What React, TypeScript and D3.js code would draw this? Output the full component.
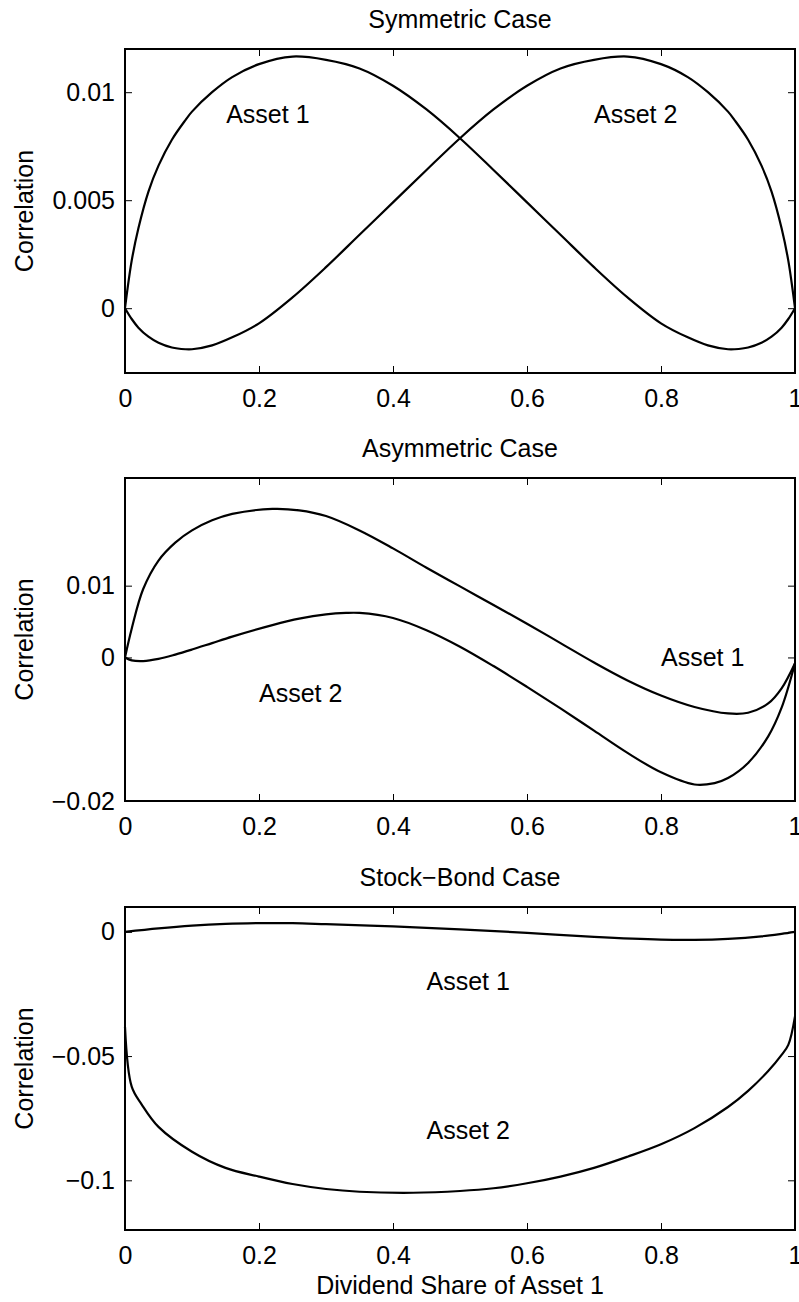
import * as React from "react";
import * as d3 from "d3";

const W = 799;
const H = 1302;
const LEFT = 125;
const RIGHT = 795;
const FONT = "'Liberation Sans', Arial, Helvetica, sans-serif";
const FS = 25;

const xTicks = [0, 0.2, 0.4, 0.6, 0.8, 1];

// Symmetric case
const symX = [0, 0.01, 0.02, 0.035, 0.05, 0.07, 0.09, 0.1, 0.13, 0.16, 0.2, 0.25, 0.3, 0.35, 0.4, 0.45, 0.5,
  0.55, 0.6, 0.65, 0.7, 0.75, 0.8, 0.84, 0.87, 0.9, 0.91, 0.93, 0.95, 0.965, 0.98, 0.99, 1];
const symAsset1 = [0, 0.0022, 0.0037, 0.0054, 0.0066, 0.0078, 0.0087, 0.0091, 0.01, 0.0107, 0.0113, 0.01165, 0.0115,
  0.0111, 0.0103, 0.0092, 0.00787, 0.0064, 0.0049, 0.0034, 0.0019, 0.0005, -0.0007, -0.00135, -0.00172, -0.0019,
  -0.0019, -0.00182, -0.0016, -0.00132, -0.0009, -0.0005, 0];
const symAsset2 = [0, -0.0005, -0.0009, -0.00132, -0.0016, -0.00182, -0.0019, -0.0019, -0.00172, -0.00135, -0.0007,
  0.0005, 0.0019, 0.0034, 0.0049, 0.0064, 0.00787, 0.0092, 0.0103, 0.0111, 0.0115, 0.01165, 0.0113, 0.0107, 0.01,
  0.0091, 0.0087, 0.0078, 0.0066, 0.0054, 0.0037, 0.0022, 0];
const symYTicks = [0, 0.005, 0.01];

// Asymmetric case
const asymX1 = [0, 0.01, 0.027, 0.05, 0.075, 0.1, 0.13, 0.16, 0.22, 0.26, 0.3, 0.35, 0.4, 0.45, 0.5, 0.55, 0.6,
  0.65, 0.7, 0.75, 0.8, 0.85, 0.9, 0.93, 0.96, 0.98, 1];
const asymAsset1 = [0, 0.004, 0.0095, 0.0135, 0.016, 0.0177, 0.0191, 0.02, 0.0207, 0.0205, 0.0197, 0.0177, 0.0152,
  0.0125, 0.0099, 0.0073, 0.0047, 0.002, -0.0007, -0.0032, -0.0053, -0.0069, -0.0078, -0.0077, -0.0064, -0.0043, -0.0008];
const asymX2 = [0, 0.01, 0.027, 0.05, 0.075, 0.1, 0.13, 0.16, 0.22, 0.26, 0.3, 0.33, 0.35, 0.4, 0.45, 0.5, 0.55,
  0.6, 0.65, 0.7, 0.75, 0.8, 0.85, 0.88, 0.9, 0.93, 0.96, 0.98, 1];
const asymAsset2 = [0, -0.0004, -0.0005, -0.0002, 0.0004, 0.0011, 0.002, 0.0029, 0.0045, 0.0054, 0.006, 0.0062,
  0.0062, 0.0055, 0.0038, 0.0015, -0.0012, -0.0041, -0.0071, -0.0102, -0.0133, -0.016, -0.0177, -0.0175, -0.0168,
  -0.0147, -0.011, -0.007, -0.0008];
const asymYTicks = [-0.02, 0, 0.01];

// Stock-bond case
const sbX1 = [0, 0.05, 0.1, 0.15, 0.2, 0.25, 0.3, 0.4, 0.5, 0.6, 0.7, 0.8, 0.85, 0.9, 0.95, 0.98, 1];
const sbAsset1 = [0, 0.0014, 0.0025, 0.0032, 0.0035, 0.0035, 0.0031, 0.0022, 0.001, -0.0004, -0.002, -0.0031,
  -0.0032, -0.0028, -0.0018, -0.0008, 0];
const sbX2 = [0, 0.01, 0.025, 0.05, 0.1, 0.15, 0.2, 0.25, 0.3, 0.35, 0.43, 0.5, 0.55, 0.6, 0.65, 0.7, 0.75, 0.8,
  0.85, 0.9, 0.93, 0.96, 0.98, 0.99, 1];
const sbAsset2 = [-0.0383, -0.0623, -0.0695, -0.0785, -0.0885, -0.095, -0.0985, -0.1015, -0.1035, -0.1046, -0.105,
  -0.1043, -0.1032, -0.1012, -0.0985, -0.095, -0.0905, -0.0855, -0.079, -0.0705, -0.064, -0.056, -0.0495, -0.0455, -0.034];
const sbYTicks = [-0.1, -0.05, 0];

const smooth = d3.curveCatmullRom.alpha(0.5);

const panels = [
  {
    title: "Symmetric Case", top: 49, bottom: 373, yDomain: [-0.003, 0.012], yTicks: symYTicks,
    series: [{ x: symX, y: symAsset1 }, { x: symX, y: symAsset2 }],
    labels: [{ text: "Asset 1", x: 0.151, y: 0.009 }, { text: "Asset 2", x: 0.7, y: 0.009 }],
  },
  {
    title: "Asymmetric Case", top: 478, bottom: 801, yDomain: [-0.02, 0.025], yTicks: asymYTicks,
    series: [{ x: asymX1, y: asymAsset1 }, { x: asymX2, y: asymAsset2 }],
    labels: [{ text: "Asset 1", x: 0.8, y: 0 }, { text: "Asset 2", x: 0.2, y: -0.005 }],
  },
  {
    title: "Stock\u2212Bond Case", top: 907, bottom: 1230, yDomain: [-0.12, 0.01], yTicks: sbYTicks,
    series: [{ x: sbX1, y: sbAsset1 }, { x: sbX2, y: sbAsset2 }],
    labels: [{ text: "Asset 1", x: 0.45, y: -0.02 }, { text: "Asset 2", x: 0.45, y: -0.08 }],
  },
];

const fmt = (v: number) => String(v).replace("-", "\u2212");

function drawChart(svgEl: SVGSVGElement) {
  const svg = d3.select(svgEl);
  svg.selectAll("*").remove();
  svg.append("rect").attr("width", W).attr("height", H).attr("fill", "white");

  const x = d3.scaleLinear().domain([0, 1]).range([LEFT, RIGHT]);

  panels.forEach((p, i) => {
    const y = d3.scaleLinear().domain(p.yDomain).range([p.bottom, p.top]);
    const g = svg.append("g");

    // ticks point inward on all four sides, like matlab's box
    const styleAxis = (sel: any) => {
      sel.select(".domain").remove();
      sel.selectAll("line").attr("stroke", "#000").attr("stroke-width", 1);
      sel.selectAll("text").attr("fill", "#000").attr("font-family", FONT).attr("font-size", FS);
    };
    g.append("g").attr("transform", `translate(0,${p.bottom})`)
      .call(d3.axisBottom(x).tickValues(xTicks).tickSize(-7).tickPadding(16).tickFormat((d: any) => fmt(d)))
      .call(styleAxis);
    g.append("g").attr("transform", `translate(0,${p.top})`)
      .call(d3.axisTop(x).tickValues(xTicks).tickSize(-7).tickFormat(() => ""))
      .call(styleAxis);
    g.append("g").attr("transform", `translate(${LEFT},0)`)
      .call(d3.axisLeft(y).tickValues(p.yTicks).tickSize(-7).tickPadding(10).tickFormat((d: any) => fmt(d)))
      .call(styleAxis);
    g.append("g").attr("transform", `translate(${RIGHT},0)`)
      .call(d3.axisRight(y).tickValues(p.yTicks).tickSize(-7).tickFormat(() => ""))
      .call(styleAxis);

    g.append("rect")
      .attr("x", LEFT).attr("y", p.top)
      .attr("width", RIGHT - LEFT).attr("height", p.bottom - p.top)
      .attr("fill", "none").attr("stroke", "#000").attr("stroke-width", 2);

    p.series.forEach((s) => {
      const line = d3.line<number>()
        .x((_, j) => x(s.x[j]))
        .y((d) => y(d))
        .curve(smooth);
      g.append("path")
        .attr("d", line(s.y))
        .attr("fill", "none")
        .attr("stroke", "#000")
        .attr("stroke-width", 2.2)
        .attr("stroke-linejoin", "round");
    });

    p.labels.forEach((l) => {
      g.append("text")
        .attr("x", x(l.x)).attr("y", y(l.y)).attr("dy", "0.35em")
        .attr("font-family", FONT).attr("font-size", FS)
        .text(l.text);
    });

    g.append("text")
      .attr("x", (LEFT + RIGHT) / 2).attr("y", p.top - 21)
      .attr("text-anchor", "middle")
      .attr("font-family", FONT).attr("font-size", FS)
      .text(p.title);

    g.append("text")
      .attr("transform", `translate(33,${(p.top + p.bottom) / 2}) rotate(-90)`)
      .attr("text-anchor", "middle")
      .attr("font-family", FONT).attr("font-size", FS)
      .text("Correlation");

    if (i === panels.length - 1) {
      g.append("text")
        .attr("x", (LEFT + RIGHT) / 2).attr("y", 1294)
        .attr("text-anchor", "middle")
        .attr("font-family", FONT).attr("font-size", FS)
        .text("Dividend Share of Asset 1");
    }
  });
}

const App = () => {
  const svg = React.useRef<SVGSVGElement>(null);
  React.useEffect(() => {
    document.body.style.margin = "0";
    if (svg.current) drawChart(svg.current);
  }, []);

  return (
    <div id="chart">
      <svg ref={svg} width={W} height={H} style={{ display: "block" }}></svg>
    </div>
  );
};

export default App;
